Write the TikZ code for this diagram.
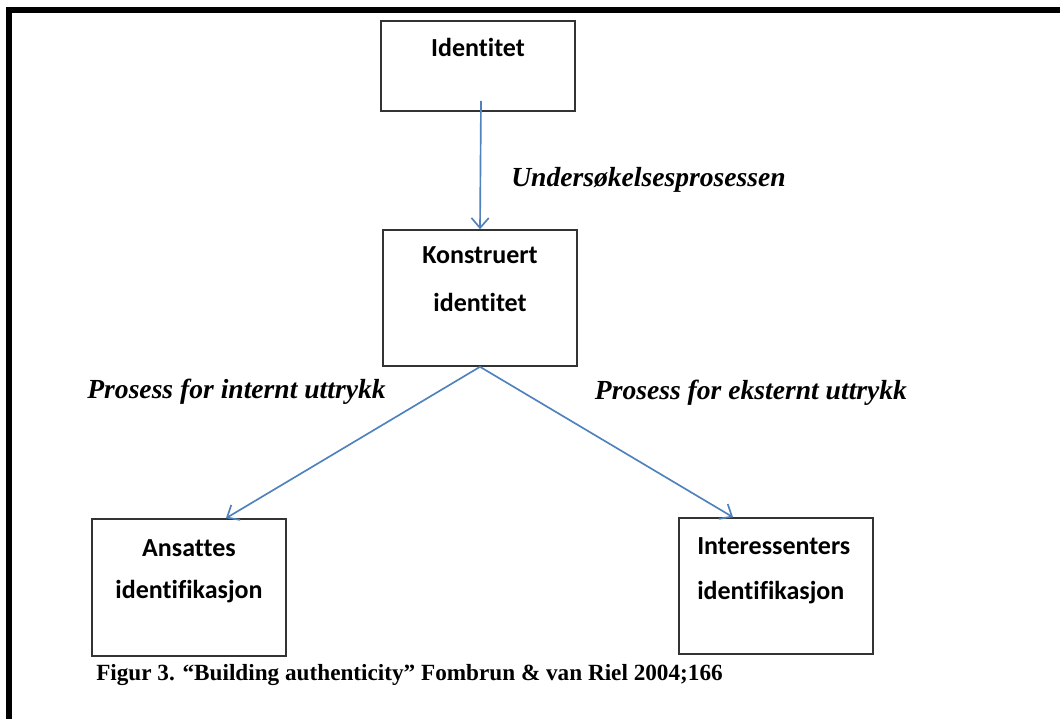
\documentclass[tikz,border=0pt]{standalone}
\usepackage{fontspec}
\setmainfont{Liberation Serif}
\newfontfamily\boxfont[Ligatures={NoCommon}]{Carlito}
\usetikzlibrary{arrows.meta,calc}
\definecolor{arrowblue}{HTML}{4F81BD}
\definecolor{boxgray}{HTML}{333333}
\tikzset{
  boxnode/.style={draw=boxgray, line width=1.2pt, minimum width=145.5pt, inner sep=0pt},
  boxtext/.style={font=\boxfont\bfseries\fontsize{19.5}{21}\selectfont, inner sep=0pt},
  proclabel/.style={font=\bfseries\itshape\fontsize{20.7}{22}\selectfont, inner sep=0pt},
  conn/.style={draw=arrowblue, line width=1.25pt, -{Straight Barb[length=7.5pt,width=13pt,line width=1.25pt]}},
}
\begin{document}
\begin{tikzpicture}[x=0.75pt,y=-0.75pt]
\useasboundingbox (0,0) rectangle (1060,718);
% frame lines (top and left)
\draw[line width=4.5pt, line cap=rect] (9,718) -- (9,10) -- (1062,10);
% boxes
\node[boxnode, minimum height=67.5pt] (ident) at (478,66) {};
\node[boxnode, minimum height=102pt] (konst) at (480,298) {};
\node[boxnode, minimum height=102.75pt] (ans) at (189,587.5) {};
\node[boxnode, minimum height=102pt] (inter) at (776,586) {};
% box texts
\node[boxtext] (t1) at (478,47) {Identitet};
\node[boxtext] (t2a) at (480,255) {Konstruert};
\node[boxtext] (t2b) at (480,302) {identitet};
\node[boxtext] (t3a) at (189,548) {Ansattes};
\node[boxtext] (t3b) at (189,592) {identifikasjon};
\node[boxtext, anchor=west] (t4a) at (697,546) {Interessenters};
\node[boxtext, anchor=west] (t4b) at (697,593) {identifikasjon};
% connectors
\draw[conn] ($(ident.south)+(3,-11)$) -- (konst.north);
\draw[conn] (konst.south) -- ($(ans.north)+(37,0)$);
\draw[conn] (konst.south) -- ($(inter.north)+(-43,0)$);
% labels
\node[proclabel] (l1) at (648.5,180) {Undersøkelsesprosessen};
\node[proclabel] (l2) at (236.5,392) {Prosess for internt uttrykk};
\node[proclabel] (l3) at (751,393) {Prosess for eksternt uttrykk};
% caption
\node[font=\bfseries\fontsize{17.4}{19}\selectfont, inner sep=0pt, anchor=west] (cap) at (96,675) {Figur 3. “Building authenticity” Fombrun \& van Riel 2004;166};
\end{tikzpicture}
\end{document}
